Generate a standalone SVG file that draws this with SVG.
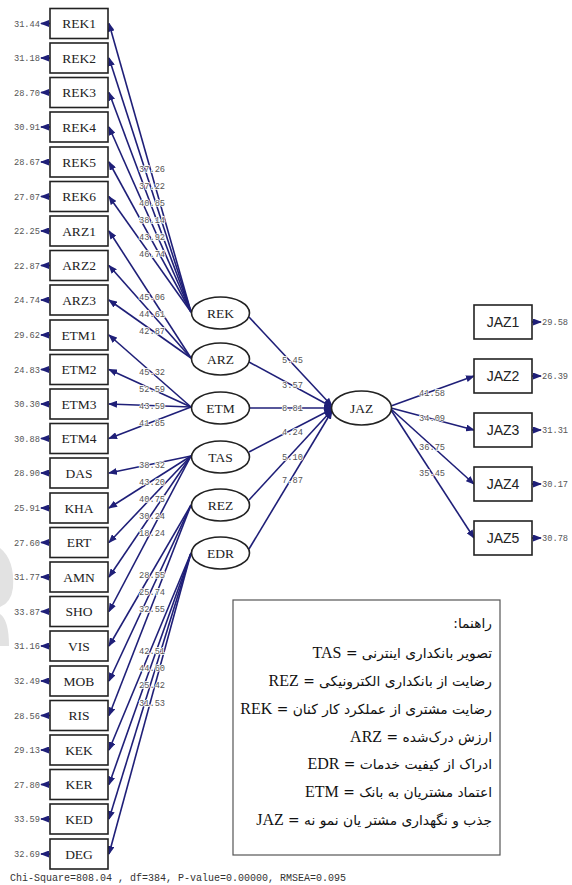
<svg xmlns="http://www.w3.org/2000/svg" width="572" height="885" viewBox="0 0 572 885">
<style>
.bg{fill:#ffffff}
.box{fill:#ffffff;stroke:#222;stroke-width:1.6}
.ell{fill:#ffffff;stroke:#222;stroke-width:1.6}
.ln{stroke:#1f1f78;stroke-width:1.6;fill:none}
.lt{font-family:"Liberation Serif",serif;font-size:13.5px;fill:#222;text-anchor:middle}
.js{font-family:"Liberation Sans",sans-serif;font-size:14px;fill:#222;text-anchor:middle}
.num{font-family:"Liberation Mono",monospace;font-size:8.7px;fill:#555;paint-order:stroke;stroke:#fff;stroke-width:1.5px}
.ne{text-anchor:end}
.leg{font-family:"DejaVu Sans",sans-serif;font-size:13.8px;fill:#111}
.lat{font-family:"Liberation Serif",serif;font-size:16px}
.foot{font-family:"Liberation Mono",monospace;font-size:10px;fill:#333}
</style>
<defs>
<marker id="ah" markerUnits="userSpaceOnUse" markerWidth="9" markerHeight="7" refX="8" refY="3.5" orient="auto">
<path d="M0,0 L9,3.5 L0,7 z" fill="#1f1f78"/>
</marker>
</defs>
<rect class="bg" x="0" y="0" width="572" height="885"/>
<path d="M0,548 Q15,560 13,588 Q11,603 0,607 Z M0,614 Q9,620 9,646 L0,646 Z" fill="#e2e2e2"/>

<g id="connectors">
<g class="ln" marker-end="url(#ah)">
<line x1="50" y1="23.5" x2="41" y2="23.5"/><line x1="50" y1="58" x2="41" y2="58"/><line x1="50" y1="92.5" x2="41" y2="92.5"/><line x1="50" y1="127" x2="41" y2="127"/><line x1="50" y1="162" x2="41" y2="162"/><line x1="50" y1="196.5" x2="41" y2="196.5"/><line x1="50" y1="231" x2="41" y2="231"/><line x1="50" y1="265.5" x2="41" y2="265.5"/><line x1="50" y1="300" x2="41" y2="300"/><line x1="50" y1="335" x2="41" y2="335"/><line x1="50" y1="369.5" x2="41" y2="369.5"/><line x1="50" y1="404" x2="41" y2="404"/><line x1="50" y1="438.5" x2="41" y2="438.5"/><line x1="50" y1="473" x2="41" y2="473"/><line x1="50" y1="508" x2="41" y2="508"/><line x1="50" y1="542.5" x2="41" y2="542.5"/><line x1="50" y1="577" x2="41" y2="577"/><line x1="50" y1="611.5" x2="41" y2="611.5"/><line x1="50" y1="646" x2="41" y2="646"/><line x1="50" y1="681" x2="41" y2="681"/><line x1="50" y1="715.5" x2="41" y2="715.5"/><line x1="50" y1="750" x2="41" y2="750"/><line x1="50" y1="784.5" x2="41" y2="784.5"/><line x1="50" y1="819" x2="41" y2="819"/><line x1="50" y1="854" x2="41" y2="854"/>
<line x1="532" y1="322" x2="541" y2="322"/><line x1="532" y1="376" x2="541" y2="376"/><line x1="532" y1="430" x2="541" y2="430"/><line x1="532" y1="484" x2="541" y2="484"/><line x1="532" y1="538" x2="541" y2="538"/>
<line x1="191" y1="312" x2="109" y2="23.5"/><line x1="191" y1="312" x2="109" y2="58"/><line x1="191" y1="312" x2="109" y2="92.5"/><line x1="191" y1="312" x2="109" y2="127"/><line x1="191" y1="312" x2="109" y2="162"/><line x1="191" y1="312" x2="109" y2="196.5"/>
<line x1="191" y1="358" x2="109" y2="231"/><line x1="191" y1="358" x2="109" y2="265.5"/><line x1="191" y1="358" x2="109" y2="300"/>
<line x1="191" y1="407" x2="109" y2="335"/><line x1="191" y1="407" x2="109" y2="369.5"/><line x1="191" y1="407" x2="109" y2="404"/><line x1="191" y1="407" x2="109" y2="438.5"/>
<line x1="191" y1="456" x2="109" y2="473"/><line x1="191" y1="456" x2="109" y2="508"/><line x1="191" y1="456" x2="109" y2="542.5"/><line x1="191" y1="456" x2="109" y2="577"/><line x1="191" y1="456" x2="109" y2="611.5"/>
<line x1="191" y1="505" x2="109" y2="646"/><line x1="191" y1="505" x2="109" y2="681"/><line x1="191" y1="505" x2="109" y2="715.5"/>
<line x1="191" y1="553" x2="109" y2="750"/><line x1="191" y1="553" x2="109" y2="784.5"/><line x1="191" y1="553" x2="109" y2="819"/><line x1="191" y1="553" x2="109" y2="854"/>
<line x1="249" y1="317" x2="332" y2="406"/><line x1="249" y1="362" x2="332" y2="407"/><line x1="250" y1="408" x2="332" y2="408"/><line x1="249" y1="452" x2="332" y2="409"/><line x1="249" y1="500" x2="332" y2="410"/><line x1="249" y1="549" x2="332" y2="411"/>
<line x1="391" y1="406" x2="474" y2="376"/><line x1="391" y1="408" x2="474" y2="430"/><line x1="391" y1="409" x2="474" y2="484"/><line x1="391" y1="410" x2="474" y2="538"/>
</g>
<g class="num">
<text x="139" y="172">37.26</text><text x="139" y="189">37.22</text><text x="139" y="206">40.85</text><text x="139" y="223">38.14</text><text x="139" y="240">43.92</text><text x="139" y="257">46.74</text>
<text x="139" y="300">45.06</text><text x="139" y="317">44.61</text><text x="139" y="334">42.87</text>
<text x="139" y="375">45.32</text><text x="139" y="392">52.59</text><text x="139" y="409">43.59</text><text x="139" y="426">41.85</text>
<text x="139" y="468">38.32</text><text x="139" y="485">43.20</text><text x="139" y="502">40.75</text><text x="139" y="519">30.24</text><text x="139" y="536">18.24</text>
<text x="139" y="578">28.55</text><text x="139" y="595">25.74</text><text x="139" y="612">32.55</text>
<text x="139" y="654">42.51</text><text x="139" y="671">44.60</text><text x="139" y="688">25.42</text><text x="139" y="706">31.53</text>
<text x="282" y="363">5.45</text><text x="282" y="388">3.57</text><text x="282" y="411">8.81</text><text x="282" y="435">4.24</text><text x="282" y="460">5.10</text><text x="282" y="483">7.87</text>
<text x="419" y="396">41.58</text><text x="419" y="421">34.09</text><text x="419" y="450">36.75</text><text x="419" y="476">35.45</text>
</g>
</g>

<g id="errors" class="num">
<text class="ne" x="40" y="26.5">31.44</text><text class="ne" x="40" y="61">31.18</text><text class="ne" x="40" y="95.5">28.70</text><text class="ne" x="40" y="130">30.91</text><text class="ne" x="40" y="165">28.67</text><text class="ne" x="40" y="199.5">27.07</text><text class="ne" x="40" y="234">22.25</text><text class="ne" x="40" y="268.5">22.87</text><text class="ne" x="40" y="303">24.74</text><text class="ne" x="40" y="338">29.62</text><text class="ne" x="40" y="372.5">24.83</text><text class="ne" x="40" y="407">30.30</text><text class="ne" x="40" y="441.5">30.88</text><text class="ne" x="40" y="476">28.90</text><text class="ne" x="40" y="511">25.91</text><text class="ne" x="40" y="545.5">27.60</text><text class="ne" x="40" y="580">31.77</text><text class="ne" x="40" y="614.5">33.87</text><text class="ne" x="40" y="649">31.16</text><text class="ne" x="40" y="684">32.49</text><text class="ne" x="40" y="718.5">28.56</text><text class="ne" x="40" y="753">29.13</text><text class="ne" x="40" y="787.5">27.80</text><text class="ne" x="40" y="822">33.59</text><text class="ne" x="40" y="857">32.69</text>
<text x="542" y="325">29.58</text><text x="542" y="379">26.39</text><text x="542" y="433">31.31</text><text x="542" y="487">30.17</text><text x="542" y="541">30.78</text>
</g>

<g id="REK1"><rect class="box" x="50" y="8.5" width="58" height="30"/><text class="lt" x="79" y="28">REK1</text></g>
<g id="REK2"><rect class="box" x="50" y="43" width="58" height="30"/><text class="lt" x="79" y="62.5">REK2</text></g>
<g id="REK3"><rect class="box" x="50" y="77.5" width="58" height="30"/><text class="lt" x="79" y="97">REK3</text></g>
<g id="REK4"><rect class="box" x="50" y="112" width="58" height="30"/><text class="lt" x="79" y="131.5">REK4</text></g>
<g id="REK5"><rect class="box" x="50" y="147" width="58" height="30"/><text class="lt" x="79" y="166.5">REK5</text></g>
<g id="REK6"><rect class="box" x="50" y="181.5" width="58" height="30"/><text class="lt" x="79" y="201">REK6</text></g>
<g id="ARZ1"><rect class="box" x="50" y="216" width="58" height="30"/><text class="lt" x="79" y="235.5">ARZ1</text></g>
<g id="ARZ2"><rect class="box" x="50" y="250.5" width="58" height="30"/><text class="lt" x="79" y="270">ARZ2</text></g>
<g id="ARZ3"><rect class="box" x="50" y="285" width="58" height="30"/><text class="lt" x="79" y="304.5">ARZ3</text></g>
<g id="ETM1"><rect class="box" x="50" y="320" width="58" height="30"/><text class="lt" x="79" y="339.5">ETM1</text></g>
<g id="ETM2"><rect class="box" x="50" y="354.5" width="58" height="30"/><text class="lt" x="79" y="374">ETM2</text></g>
<g id="ETM3"><rect class="box" x="50" y="389" width="58" height="30"/><text class="lt" x="79" y="408.5">ETM3</text></g>
<g id="ETM4"><rect class="box" x="50" y="423.5" width="58" height="30"/><text class="lt" x="79" y="443">ETM4</text></g>
<g id="DAS"><rect class="box" x="50" y="458" width="58" height="30"/><text class="lt" x="79" y="477.5">DAS</text></g>
<g id="KHA"><rect class="box" x="50" y="493" width="58" height="30"/><text class="lt" x="79" y="512.5">KHA</text></g>
<g id="ERT"><rect class="box" x="50" y="527.5" width="58" height="30"/><text class="lt" x="79" y="547">ERT</text></g>
<g id="AMN"><rect class="box" x="50" y="562" width="58" height="30"/><text class="lt" x="79" y="581.5">AMN</text></g>
<g id="SHO"><rect class="box" x="50" y="596.5" width="58" height="30"/><text class="lt" x="79" y="616">SHO</text></g>
<g id="VIS"><rect class="box" x="50" y="631" width="58" height="30"/><text class="lt" x="79" y="650.5">VIS</text></g>
<g id="MOB"><rect class="box" x="50" y="666" width="58" height="30"/><text class="lt" x="79" y="685.5">MOB</text></g>
<g id="RIS"><rect class="box" x="50" y="700.5" width="58" height="30"/><text class="lt" x="79" y="720">RIS</text></g>
<g id="KEK"><rect class="box" x="50" y="735" width="58" height="30"/><text class="lt" x="79" y="754.5">KEK</text></g>
<g id="KER"><rect class="box" x="50" y="769.5" width="58" height="30"/><text class="lt" x="79" y="789">KER</text></g>
<g id="KED"><rect class="box" x="50" y="804" width="58" height="30"/><text class="lt" x="79" y="823.5">KED</text></g>
<g id="DEG"><rect class="box" x="50" y="839" width="58" height="30"/><text class="lt" x="79" y="858.5">DEG</text></g>

<g id="REK"><ellipse class="ell" cx="220.5" cy="313" rx="29" ry="16"/><text class="lt" x="220.5" y="317.5">REK</text></g>
<g id="ARZ"><ellipse class="ell" cx="220.5" cy="359" rx="29" ry="16"/><text class="lt" x="220.5" y="363.5">ARZ</text></g>
<g id="ETM"><ellipse class="ell" cx="220.5" cy="408" rx="29" ry="16"/><text class="lt" x="220.5" y="412.5">ETM</text></g>
<g id="TAS"><ellipse class="ell" cx="220.5" cy="457" rx="29" ry="16"/><text class="lt" x="220.5" y="461.5">TAS</text></g>
<g id="REZ"><ellipse class="ell" cx="220.5" cy="505" rx="29" ry="16"/><text class="lt" x="220.5" y="509.5">REZ</text></g>
<g id="EDR"><ellipse class="ell" cx="220.5" cy="553" rx="29" ry="16"/><text class="lt" x="220.5" y="557.5">EDR</text></g>
<g id="JAZ"><ellipse class="ell" cx="361.5" cy="408" rx="30" ry="17"/><text class="lt" x="361.5" y="412.5">JAZ</text></g>

<g id="JAZ1"><rect class="box" x="474" y="305" width="58" height="34"/><text class="js" x="503" y="327">JAZ1</text></g>
<g id="JAZ2"><rect class="box" x="474" y="359" width="58" height="34"/><text class="js" x="503" y="381">JAZ2</text></g>
<g id="JAZ3"><rect class="box" x="474" y="413" width="58" height="34"/><text class="js" x="503" y="435">JAZ3</text></g>
<g id="JAZ4"><rect class="box" x="474" y="467" width="58" height="34"/><text class="js" x="503" y="489">JAZ4</text></g>
<g id="JAZ5"><rect class="box" x="474" y="521" width="58" height="34"/><text class="js" x="503" y="543">JAZ5</text></g>

<g id="legend">
<rect x="233" y="600" width="267" height="255" fill="#fff" stroke="#555" stroke-width="1.2"/>
<g class="leg" direction="rtl" text-anchor="start">
<text x="492" y="628">راهنما:</text>
<text x="492" y="658">تصویر بانکداری اینترنی = <tspan class="lat">TAS</tspan></text>
<text x="492" y="686">رضایت از بانکداری الکترونیکی = <tspan class="lat">REZ</tspan></text>
<text x="492" y="714">رضایت مشتری از عملکرد کار کنان = <tspan class="lat">REK</tspan></text>
<text x="492" y="742">ارزش درک‌شده = <tspan class="lat">ARZ</tspan></text>
<text x="492" y="769">ادراک از کیفیت خدمات = <tspan class="lat">EDR</tspan></text>
<text x="492" y="797">اعتماد مشتریان به بانک = <tspan class="lat">ETM</tspan></text>
<text x="492" y="825">جذب و نگهداری مشتر یان نمو نه = <tspan class="lat">JAZ</tspan></text>
</g>
</g>

<text class="foot" x="10" y="881">Chi-Square=808.04 , df=384, P-value=0.00000, RMSEA=0.095</text>
</svg>
